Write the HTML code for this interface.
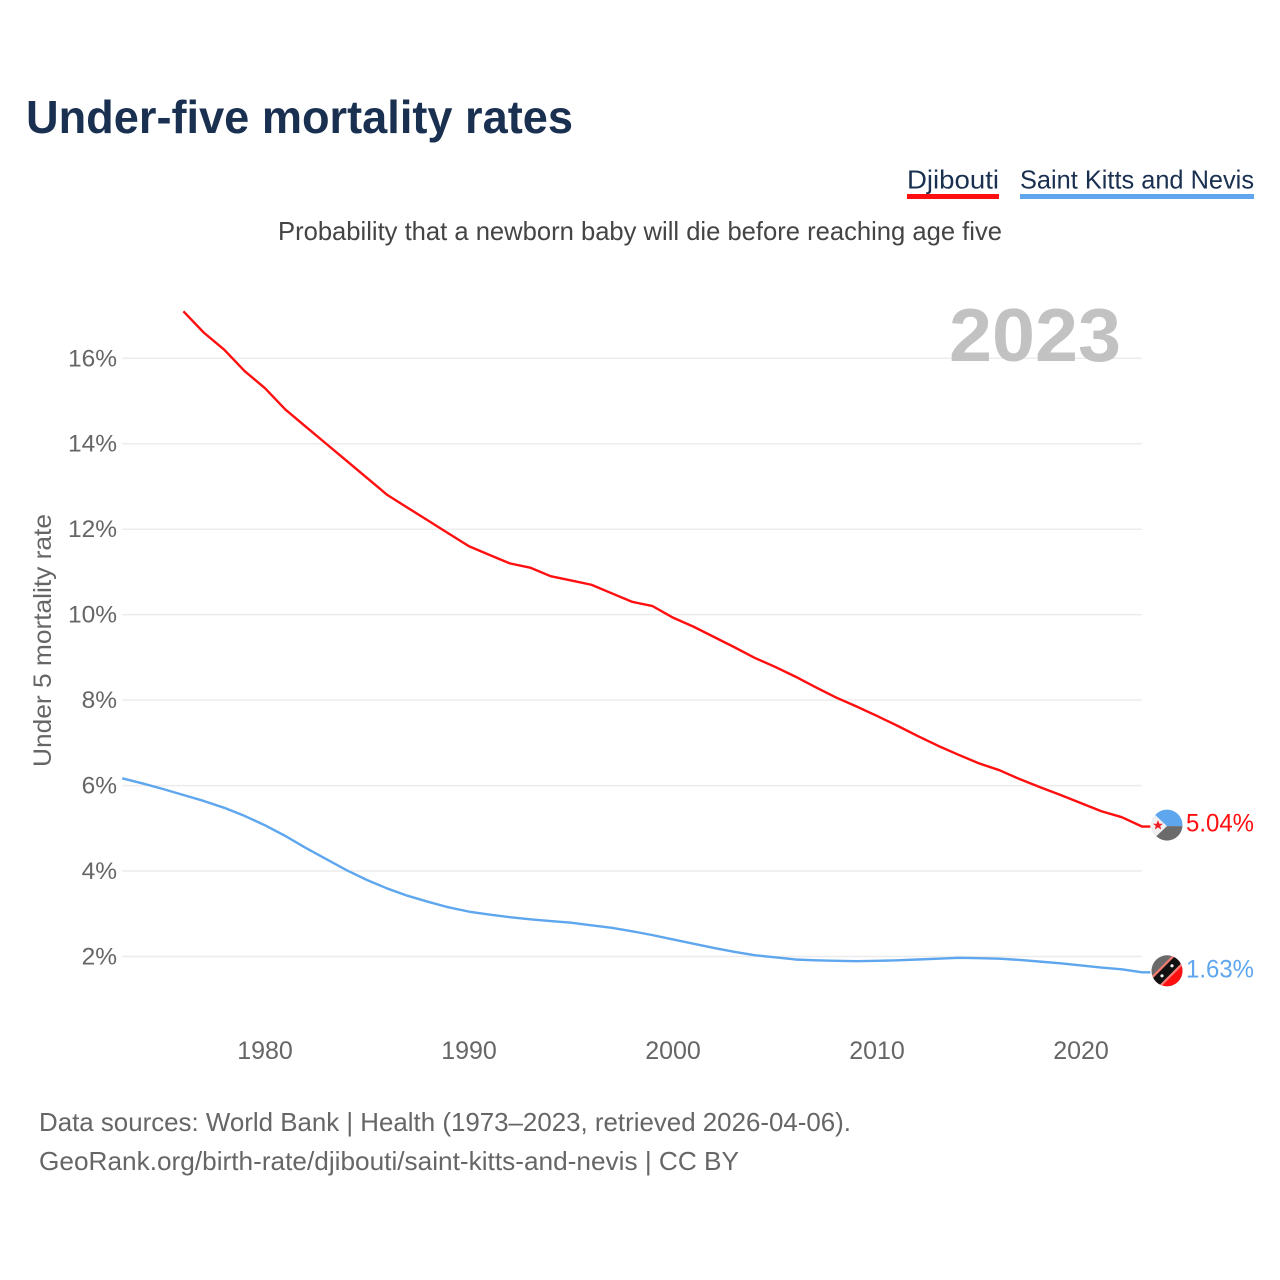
<!DOCTYPE html>
<html lang="en">
<head>
<meta charset="utf-8">
<title>Under-five mortality rates</title>
<style>
html,body{margin:0;padding:0;background:#fff;}
svg{display:block;font-family:"Liberation Sans",sans-serif;}
</style>
</head>
<body>
<svg id="chart" width="1280" height="1280" viewBox="0 0 1280 1280" xmlns="http://www.w3.org/2000/svg">
  <defs>
    <clipPath id="flag-clip"><circle cx="0" cy="0" r="15.5"></circle></clipPath>
  </defs>
  <rect x="0" y="0" width="1280" height="1280" fill="#ffffff"></rect>
  <text x="26" y="133" font-size="46" font-weight="700" fill="#1a3050" textLength="547" lengthAdjust="spacingAndGlyphs">Under-five mortality rates</text>

  <g>
    <text x="907" y="188.5" font-size="26" fill="#1a3050" textLength="92" lengthAdjust="spacingAndGlyphs">Djibouti</text>
    <rect x="907" y="194" width="92" height="5" fill="#ff0f0f"></rect>
  </g>
  <g>
    <text x="1020" y="188.5" font-size="26" fill="#1a3050" textLength="234" lengthAdjust="spacingAndGlyphs">Saint Kitts and Nevis</text>
    <rect x="1020" y="194" width="234" height="5" fill="#60a5ee"></rect>
  </g>

  <text x="278" y="240" font-size="26" fill="#444444" textLength="724" lengthAdjust="spacingAndGlyphs">Probability that a newborn baby will die before reaching age five</text>

  <g id="grid"></g>
  <text x="949" y="361" font-size="75" font-weight="700" fill="#c2c2c2" textLength="172" lengthAdjust="spacingAndGlyphs">2023</text>
  <g id="y-ticks"></g>
  <g id="x-ticks"></g>
  <text transform="translate(51,767) rotate(-90)" x="0" y="0" font-size="25" fill="#666666" textLength="253" lengthAdjust="spacingAndGlyphs">Under 5 mortality rate</text>

  <g id="lines"></g>

  <g id="flag-djibouti" clip-path="url(#flag-clip)">
    <rect x="-16" y="-16" width="32" height="17" fill="#5ea6ee"></rect>
    <rect x="-16" y="1" width="32" height="16" fill="#6b6b6b"></rect>
    <polygon points="-18,-16 0,1 -18,18" fill="#f0f0f0"></polygon>
    <polygon points="-9,-5 -7.6,-1.4 -4,-1.4 -6.8,0.8 -5.8,4.4 -9,2.3 -12.2,4.4 -11.2,0.8 -14,-1.4 -10.4,-1.4" fill="#ef1c24"></polygon>
  </g>
  <g id="flag-skn" clip-path="url(#flag-clip)">
    <rect x="-16" y="-16" width="32" height="32" fill="#6a6a6a"></rect>
    <polygon points="16,-16 16,16 -16,16" fill="#ff1010"></polygon>
    <line x1="-18" y1="18" x2="18" y2="-18" stroke="#f47c74" stroke-width="14"></line>
    <line x1="-18" y1="18" x2="18" y2="-18" stroke="#111111" stroke-width="9.5"></line>
    <circle cx="-5" cy="5" r="1.6" fill="#f4f4f4"></circle>
    <circle cx="5" cy="-5" r="1.6" fill="#f4f4f4"></circle>
  </g>

  <text id="label-djibouti" x="1186" font-size="25" fill="#ff0f0f" textLength="68" lengthAdjust="spacingAndGlyphs"></text>
  <text id="label-skn" x="1186" font-size="25" fill="#5ea6ee" textLength="68" lengthAdjust="spacingAndGlyphs"></text>

  <text x="39" y="1131" font-size="26" fill="#666666" textLength="812" lengthAdjust="spacingAndGlyphs">Data sources: World Bank | Health (1973–2023, retrieved 2026-04-06).</text>
  <text x="39" y="1170" font-size="26" fill="#666666" textLength="700" lengthAdjust="spacingAndGlyphs">GeoRank.org/birth-rate/djibouti/saint-kitts-and-nevis | CC BY</text>
</svg>
<script>
const djiboutiYears = [1976,1977,1978,1979,1980,1981,1982,1983,1984,1985,1986,1987,1988,1989,1990,1991,1992,1993,1994,1995,1996,1997,1998,1999,2000,2001,2002,2003,2004,2005,2006,2007,2008,2009,2010,2011,2012,2013,2014,2015,2016,2017,2018,2019,2020,2021,2022,2023];
const djiboutiValues = [17.1,16.6,16.2,15.7,15.3,14.8,14.4,14.0,13.6,13.2,12.8,12.5,12.2,11.9,11.6,11.4,11.2,11.1,10.9,10.8,10.7,10.5,10.3,10.2,9.93,9.72,9.48,9.24,8.99,8.78,8.55,8.3,8.06,7.85,7.63,7.4,7.16,6.93,6.72,6.52,6.36,6.15,5.96,5.78,5.59,5.4,5.26,5.04];
const sknYears = [1973,1974,1975,1976,1977,1978,1979,1980,1981,1982,1983,1984,1985,1986,1987,1988,1989,1990,1991,1992,1993,1994,1995,1996,1997,1998,1999,2000,2001,2002,2003,2004,2005,2006,2007,2008,2009,2010,2011,2012,2013,2014,2015,2016,2017,2018,2019,2020,2021,2022,2023];
const sknValues = [6.17,6.05,5.92,5.78,5.64,5.48,5.29,5.07,4.82,4.54,4.28,4.02,3.79,3.59,3.42,3.28,3.15,3.05,2.98,2.92,2.87,2.83,2.79,2.73,2.67,2.59,2.5,2.4,2.3,2.2,2.11,2.03,1.98,1.93,1.91,1.9,1.89,1.9,1.91,1.93,1.95,1.97,1.96,1.95,1.92,1.88,1.84,1.79,1.74,1.7,1.63];
const yTickValues = [2,4,6,8,10,12,14,16];
const xTickValues = [1980,1990,2000,2010,2020];

const NS = 'http://www.w3.org/2000/svg';
function xScale(year) { return 265 + (year - 1980) * 20.4; }
function yScale(value) { return 956.5 - (value - 2) * 42.73; }
function linePath(years, values) {
  const last = values.length - 1;
  const body = values.map(function (v, i) {
    return (i ? 'L' : 'M') + xScale(years[i]).toFixed(2) + ' ' + yScale(v).toFixed(2);
  }).join(' ');
  // Short flat leader running from the final point toward the flag marker.
  return body + ' L' + xScale(years[last] + 0.4).toFixed(2) + ' ' + yScale(values[last]).toFixed(2);
}

const grid = document.getElementById('grid');
const yTicks = document.getElementById('y-ticks');
yTickValues.forEach(function (v) {
  const gridLine = document.createElementNS(NS, 'line');
  
  
  gridLine.setAttribute('x1', 122);
  gridLine.setAttribute('x2', 1142);
  gridLine.setAttribute('y1', yScale(v));
  gridLine.setAttribute('y2', yScale(v));
  gridLine.setAttribute('stroke', '#ececec');
  gridLine.setAttribute('stroke-width', 1.5);
  grid.appendChild(gridLine);

  const tick = document.createElementNS(NS, 'text');
  
  
  tick.setAttribute('x', 117);
  tick.setAttribute('y', yScale(v) + 8);
  tick.setAttribute('text-anchor', 'end');
  tick.setAttribute('font-size', 24.5);
  tick.setAttribute('fill', '#666666');
  tick.textContent = v + '%';
  yTicks.appendChild(tick);
});

const xTicks = document.getElementById('x-ticks');
xTickValues.forEach(function (year) {
  const tick = document.createElementNS(NS, 'text');
  
  
  tick.setAttribute('x', xScale(year));
  tick.setAttribute('y', 1059);
  tick.setAttribute('text-anchor', 'middle');
  tick.setAttribute('font-size', 25);
  tick.setAttribute('fill', '#666666');
  tick.textContent = year;
  xTicks.appendChild(tick);
});

const lines = document.getElementById('lines');

const sknLine = document.createElementNS(NS, 'path');


sknLine.setAttribute('d', linePath(sknYears, sknValues));
sknLine.setAttribute('fill', 'none');
sknLine.setAttribute('stroke', '#5ea6ee');
sknLine.setAttribute('stroke-width', 2.4);
sknLine.setAttribute('stroke-linejoin', 'round');
lines.appendChild(sknLine);

const djiboutiLine = document.createElementNS(NS, 'path');


djiboutiLine.setAttribute('d', linePath(djiboutiYears, djiboutiValues));
djiboutiLine.setAttribute('fill', 'none');
djiboutiLine.setAttribute('stroke', '#ff0f0f');
djiboutiLine.setAttribute('stroke-width', 2.4);
djiboutiLine.setAttribute('stroke-linejoin', 'round');
lines.appendChild(djiboutiLine);

const djiboutiLast = djiboutiValues[djiboutiValues.length - 1];
const sknLast = sknValues[sknValues.length - 1];
document.getElementById('flag-djibouti').setAttribute('transform', 'translate(1167,' + (yScale(djiboutiLast) - 1.5) + ')');
document.getElementById('flag-skn').setAttribute('transform', 'translate(1167,' + (yScale(sknLast) - 1.5) + ')');
const labelD = document.getElementById('label-djibouti');
labelD.setAttribute('y', yScale(djiboutiLast) + 5);
labelD.textContent = djiboutiLast.toFixed(2) + '%';
const labelS = document.getElementById('label-skn');
labelS.setAttribute('y', yScale(sknLast) + 5);
labelS.textContent = sknLast.toFixed(2) + '%';
</script>
</body>
</html>
